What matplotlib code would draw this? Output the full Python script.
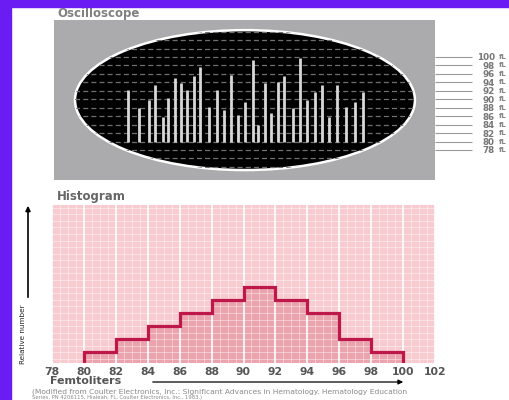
import numpy as np
import matplotlib
matplotlib.use("Agg")
import matplotlib.pyplot as plt
from matplotlib.patches import Ellipse, Rectangle, FancyArrowPatch
import matplotlib.transforms as mtransforms

# ---------------- data ----------------
# oscilloscope pulses: time (arbitrary units) and pulse height (fL)
pulse_time = [0, 4.8, 9.1, 11.6, 14.9, 17.1, 20.1, 22.6, 25.1, 28.2, 30.8,
              34.6, 37.9, 41.0, 44.0, 46.9, 49.9, 53.2, 55.4, 58.4, 60.9,
              63.8, 66.6, 70.2, 73.3, 76.4, 79.7, 82.6, 85.8, 88.9, 92.9,
              96.7, 100]
pulse_height = [92.2, 87.9, 89.8, 93.4, 85.8, 90.3, 95.0, 93.8, 92.2, 95.5,
                97.6, 88.2, 92.2, 87.5, 95.7, 86.3, 89.4, 99.3, 83.9, 93.8,
                86.8, 94.2, 95.5, 87.9, 99.8, 89.8, 91.8, 93.4, 85.9, 93.4,
                88.2, 89.4, 91.8]
scale_ticks = [100, 98, 96, 94, 92, 90, 88, 86, 84, 82, 80, 78]

# histogram
bin_edges = [80, 82, 84, 86, 88, 90, 92, 94, 96, 98, 100]
counts = [1, 2, 3, 4, 5, 6, 5, 4, 2, 1]
x_ticks = [78, 80, 82, 84, 86, 88, 90, 92, 94, 96, 98, 100, 102]

# ---------------- layout ----------------
W, H = 509, 400
fig = plt.figure(figsize=(W / 100, H / 100), dpi=100)
fig.patch.set_facecolor("white")


def rect(x0, y0, x1, y1):
    return [x0 / W, 1 - y1 / H, (x1 - x0) / W, (y1 - y0) / H]


def fx(px):
    return px / W


def fy(py):
    return 1 - py / H


PURPLE = "#6a1cf2"
# purple frame (top and left)
fig.add_artist(Rectangle((0, fy(7)), 1, 7 / H, transform=fig.transFigure,
                         color=PURPLE, zorder=10))
fig.add_artist(Rectangle((0, 0), 11 / W, 1, transform=fig.transFigure,
                         color=PURPLE, zorder=10))

# ---------------- oscilloscope ----------------
ax1 = fig.add_axes(rect(54, 20, 435, 180))
ax1.set_facecolor("#ababad")
ax1.set_xlim(-31.4, 130.8)
ax1.set_ylim(70.9, 108.75)
for s in ax1.spines.values():
    s.set_visible(False)
ax1.set_xticks([])

ell = Ellipse((49.9, 89.8), width=144.7, height=33.1, facecolor="black",
              edgecolor="white", lw=1.8, zorder=1)
ax1.add_patch(ell)
ell_clip = Ellipse((49.9, 89.8), width=144.7, height=33.1, facecolor="none",
                   edgecolor="none")
ax1.add_patch(ell_clip)

for yy in np.arange(72, 108, 2):
    ln, = ax1.plot([-40, 140], [yy, yy], color="#707070", lw=0.9,
                   linestyle=(0, (4, 2.5)), zorder=2)
    ln.set_clip_path(ell_clip)

ax1.vlines(pulse_time, 80, pulse_height, color="#d8d8d8", lw=2.0, zorder=3)

ax1.yaxis.tick_right()
ax1.set_yticks(scale_ticks)
ax1.set_yticklabels([str(v) for v in scale_ticks])
ax1.tick_params(axis="y", length=26.5, width=0.8, color="#9a9a9a", pad=16.5,
                labelsize=6.3, labelcolor="#777777")
for tl in ax1.get_yticklabels():
    tl.set_ha("right")
    tl.set_fontweight("bold")
trans = mtransforms.blended_transform_factory(fig.transFigure, ax1.transData)
for v in scale_ticks:
    ax1.text(fx(499), v, "fL", transform=trans, fontsize=5.2, color="#888888",
             va="center", ha="left", fontweight="bold", clip_on=False)

fig.text(fx(57), fy(13), "Oscilloscope", fontsize=8.5, color="#808080",
         fontweight="bold", va="center", ha="left")

# ---------------- histogram ----------------
ax2 = fig.add_axes(rect(52, 205, 435, 363))
ax2.set_facecolor("#f7cbd0")
ax2.set_xlim(78, 102)
ax2.set_ylim(0.2, 12.2)
for s in ax2.spines.values():
    s.set_visible(False)

ax2.stairs(counts, bin_edges, baseline=0, fill=True, color="#eba3ae", zorder=1)
for xx in np.arange(78, 102.01, 0.5):
    major = abs(xx - round(xx / 2) * 2) < 1e-9
    ax2.axvline(xx, color="white", lw=1.5 if major else 0.6,
                alpha=0.85 if major else 0.5, zorder=2)
for yy in np.arange(0.5, 12.2, 0.5):
    ax2.axhline(yy, color="white", lw=0.6, alpha=0.5, zorder=2)
ax2.stairs(counts, bin_edges, baseline=0, fill=False, color="#bd1849",
           lw=2.3, zorder=3)

ax2.set_yticks([])
ax2.set_xticks(x_ticks)
ax2.set_xticklabels([str(v) for v in x_ticks])
ax2.tick_params(axis="x", length=0, pad=3, labelsize=7.8, labelcolor="#555555")
for tl in ax2.get_xticklabels():
    tl.set_fontweight("bold")

fig.text(fx(57), fy(197), "Histogram", fontsize=8.5, color="#666666",
         fontweight="bold", va="center", ha="left")

# y axis arrow + label
fig.add_artist(FancyArrowPatch(
    (fx(28), fy(300)), (fx(28), fy(203)), transform=fig.transFigure,
    arrowstyle="-|>", mutation_scale=7, color="black", lw=1.2))
fig.text(fx(23), fy(334), "Relative number", rotation=90, fontsize=5.2,
         color="#222222", va="center", ha="center")

# x axis arrow + label
fig.text(fx(50), fy(381.3), "Femtoliters", fontsize=8.0, color="#555555",
         fontweight="bold", va="center", ha="left")
fig.add_artist(FancyArrowPatch(
    (fx(150), fy(382)), (fx(406), fy(382)), transform=fig.transFigure,
    arrowstyle="-|>", mutation_scale=7, color="black", lw=0.9))

fig.text(fx(32), fy(391.8),
         "(Modified from Coulter Electronics, Inc.: Significant Advances in Hematology. Hematology Education",
         fontsize=5.4, color="#8a8a8a", va="center", ha="left")
fig.text(fx(32), fy(397.5),
         "Series, PN 4206115, Hialeah, FL, Coulter Electronics, Inc., 1983.)",
         fontsize=3.8, color="#8a8a8a", va="center", ha="left")

fig.savefig("out.png", dpi=100)
